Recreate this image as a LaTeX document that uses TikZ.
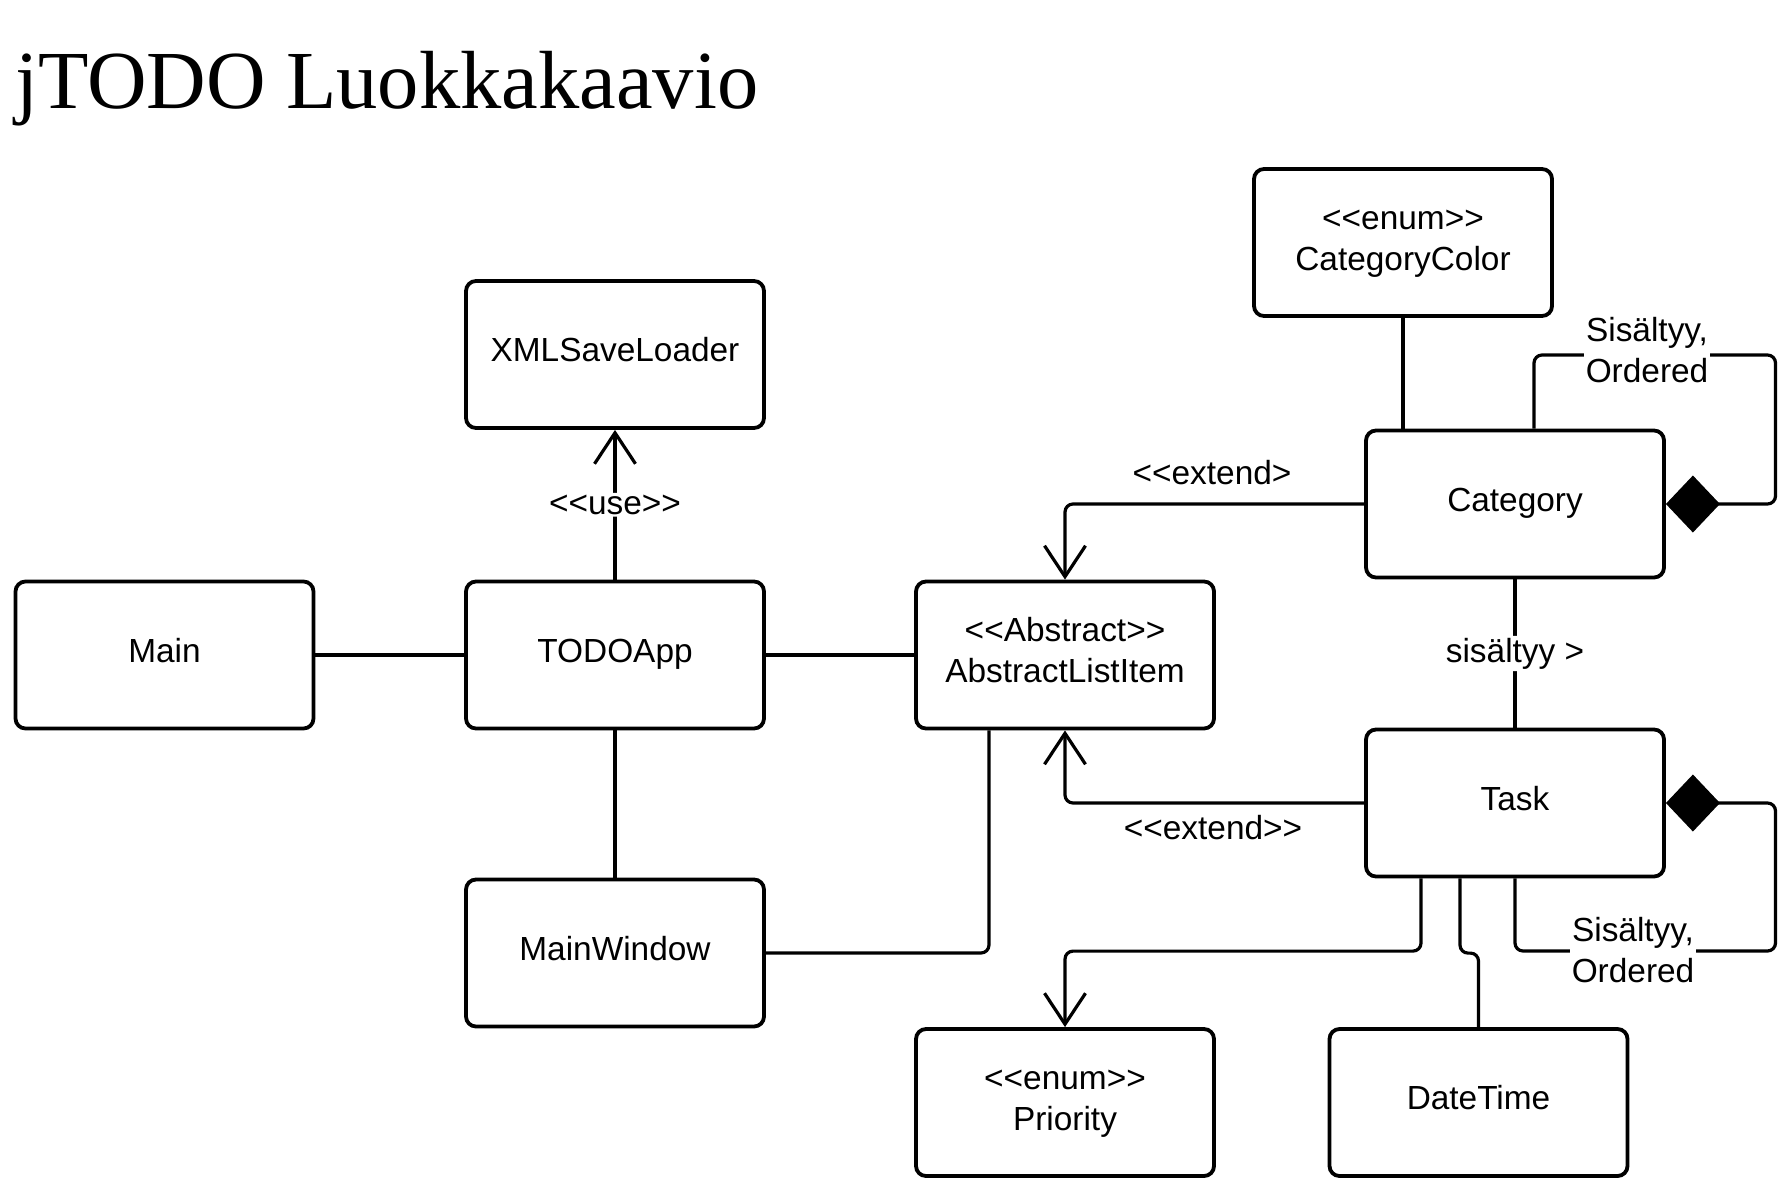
\documentclass[tikz,border=0pt]{standalone}
\usepackage{fontspec}
\setmainfont{Liberation Serif}
\newfontfamily\labelfont{Liberation Sans}
\usetikzlibrary{arrows.meta,calc}
\newcommand\lguil{<\kern0pt<}
\newcommand\rguil{>\kern0pt>}
\newcommand\topstrut{\rule{0pt}{25pt}}
\newcommand\botstrut{\rule[-11pt]{0pt}{11pt}}
\begin{document}
\begin{tikzpicture}[x=1pt,y=1pt,
  cls/.style={draw, line width=3.8pt, rounded corners=10pt, minimum width=298pt,
    minimum height=147pt, inner sep=0pt, align=center,
    font=\labelfont\fontsize{33.4}{41}\selectfont},
  one/.style={text height=25pt, text depth=11pt},
  conn/.style={line width=3.2pt, rounded corners=8pt},
  opentip/.style={-{Straight Barb[length=31pt,width=41pt]}},
  diatip/.style={{Diamond[length=54pt,width=57pt]}-},
  lbl/.style={font=\labelfont\fontsize{33.4}{41}\selectfont, align=center, inner sep=2pt},
  wlbl/.style={lbl, fill=white}]
\useasboundingbox (0,0) rectangle (1779,-1183);
\fill[white] (0,0) rectangle (1779,-1183);

\node[anchor=base west, inner sep=0pt, font=\fontsize{82.5}{90}\selectfont] (title) at (15,-108) {jTODO Luokkakaavio};

\node[cls,one] (xml) at (615,-354.5) {XMLSaveLoader};
\node[cls,one] (main) at (164.5,-655) {Main};
\node[cls,one] (todo) at (615,-655) {TODOApp};
\node[cls] (ali) at (1065,-655) {\topstrut\lguil Abstract\rguil\\AbstractListItem\botstrut};
\node[cls,one] (mw) at (615,-953) {MainWindow};
\node[cls] (cc) at (1403,-242.5) {\topstrut\lguil enum\rguil\\CategoryColor\botstrut};
\node[cls,one] (cat) at (1515,-504) {Category};
\node[cls,one] (task) at (1515,-803) {Task};
\node[cls] (prio) at (1065,-1102.5) {\topstrut\lguil enum\rguil\\Priority\botstrut};
\node[cls,one] (dt) at (1478.5,-1102.5) {DateTime};

\coordinate (catTop) at ([xshift=19pt]cat.north);
\coordinate (cLoop) at (1775.5,-355);
\coordinate (tLoop) at (1775.5,-951);
\coordinate (aliB) at ([xshift=-76pt]ali.south);
\coordinate (tP) at ([xshift=-94pt]task.south);
\coordinate (tD) at ([xshift=-55pt]task.south);
\coordinate (bendP) at ([yshift=76pt]prio.north);
\coordinate (bendD) at ([yshift=74pt]dt.north);

\draw[conn] (main.east) -- (todo.west);
\draw[conn] (todo.east) -- (ali.west);
\draw[conn,opentip] (todo.north) -- node[wlbl] (use) {\lguil use\rguil} (xml.south);
\draw[conn] (todo.south) -- (mw.north);
\draw[conn] (mw.east) -| (aliB);
\draw[conn,opentip] (cat.west) -| (ali.north);
\node[lbl] (ext1) at (1212,-473) {\lguil extend>};
\draw[conn,opentip] (task.west) -| (ali.south);
\node[lbl] (ext2) at (1213,-828) {\lguil extend\rguil};
\draw[conn] (cc.south) -- (cc.south |- cat.north);
\draw[conn] (cat.south) -- node[wlbl] (sis) {sisältyy >} (task.north);
\draw[conn,diatip] (cat.east) -| (cLoop) -| (catTop);
\node[wlbl] (sis1) at (1647,-350) {Sisältyy,\\Ordered};
\draw[conn,diatip] (task.east) -| (tLoop) -| (task.south);
\node[wlbl] (sis2) at (1633,-950) {Sisältyy,\\Ordered};
\draw[conn,opentip] (tP) |- (bendP) -- (prio.north);
\draw[conn] (tD) |- (bendD) -- (dt.north);
\end{tikzpicture}
\end{document}
